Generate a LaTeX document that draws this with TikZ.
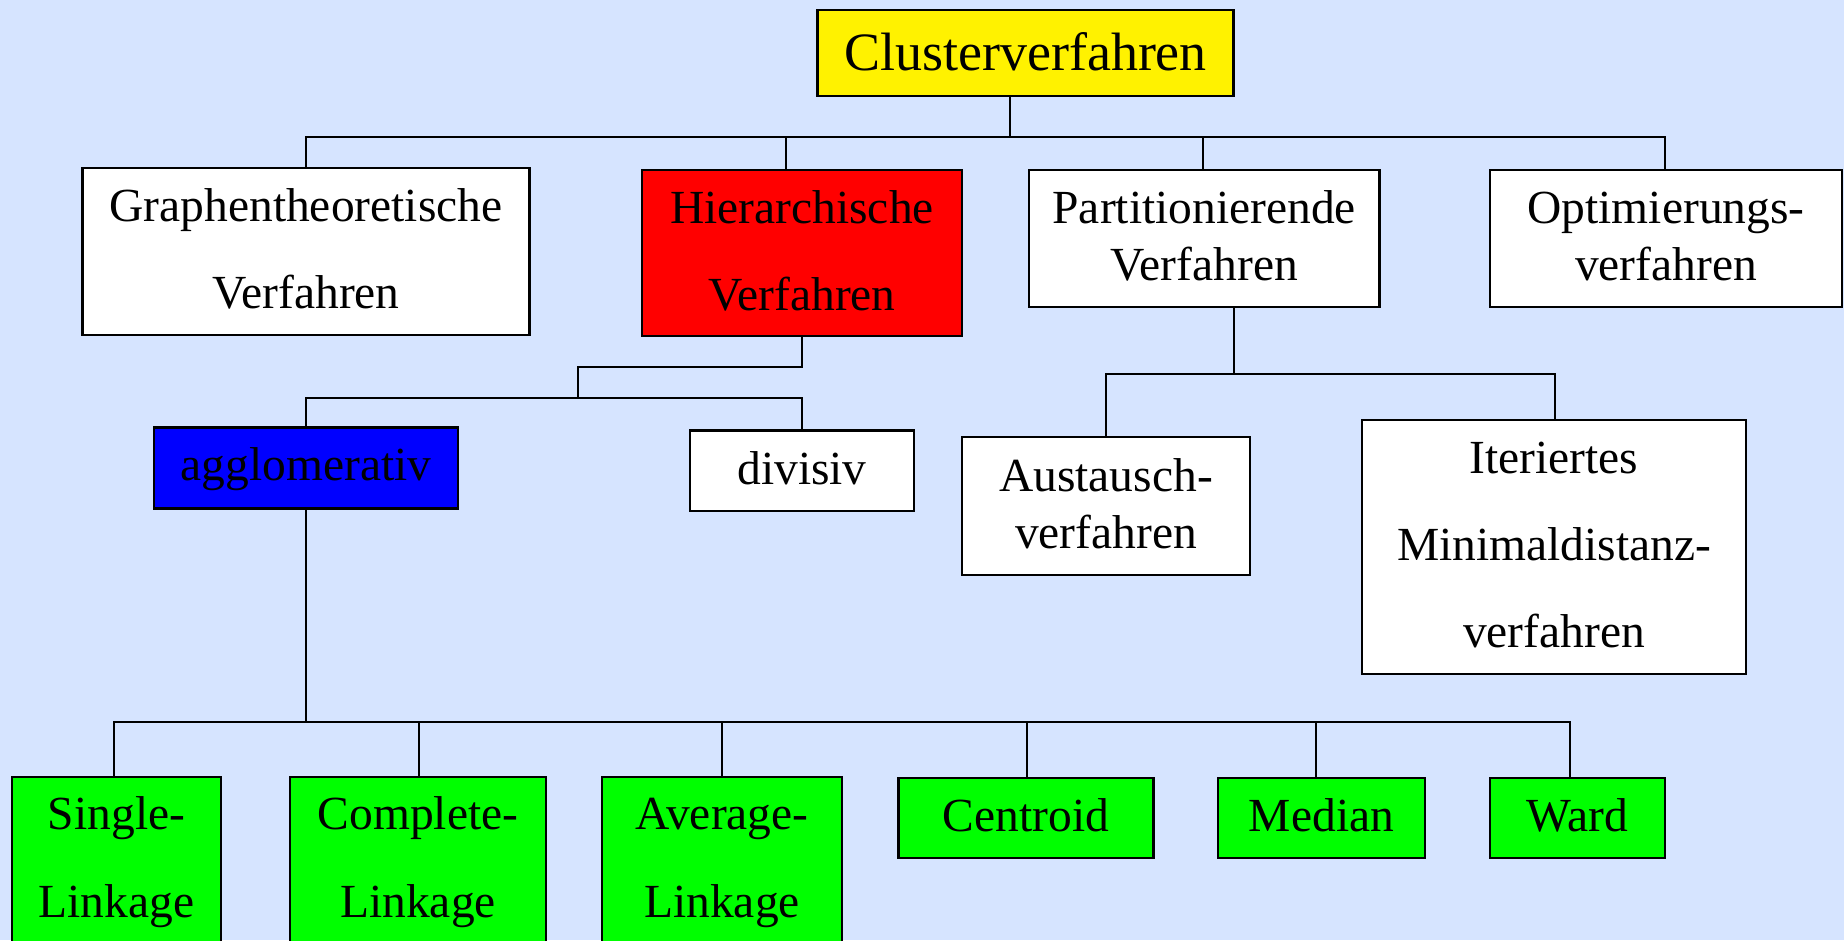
\documentclass[tikz,border=0pt]{standalone}
\usepackage{fontspec}
\setmainfont{Liberation Serif}
\definecolor{bgblue}{RGB}{214,228,255}
\newcommand{\lnstrut}{\rule[-9pt]{0pt}{45pt}}
\newcommand{\bigstrut}{\rule[-10pt]{0pt}{55pt}}
\tikzset{
  box/.style={draw=black, line width=2.2pt, inner sep=0pt, align=center,
              font=\fontsize{47.5}{57}\selectfont},
  conn/.style={draw=black, line width=2.2pt, line cap=rect}
}
\begin{document}
\begin{tikzpicture}[x=1pt,y=-1pt]
\useasboundingbox (0,0) rectangle (1844,940);
\fill[bgblue] (0,0) rectangle (1844,940);

% level 0
\node[box, fill=yellow, minimum width=416pt, minimum height=86pt,
      font=\fontsize{54}{64}\selectfont] (clu) at (1025.5,52.6) {\bigstrut Clusterverfahren};

% level 1
\node[box, fill=white, minimum width=447pt, minimum height=167pt] (gra) at (306,251.5)
  {\lnstrut Graphentheoretische\\[30pt]\lnstrut Verfahren};
\node[box, fill=red, minimum width=320pt, minimum height=166pt] (hie) at (802,253)
  {\lnstrut Hierarchische\\[30pt]\lnstrut Verfahren};
\node[box, fill=white, minimum width=350.5pt, minimum height=137pt] (par) at (1204.25,238.5)
  {\lnstrut Partitionierende\\\lnstrut Verfahren};
\node[box, fill=white, minimum width=352pt, minimum height=137pt] (opt) at (1666,238.5)
  {\lnstrut Optimierungs-\\\lnstrut verfahren};

% level 2
\node[box, fill=blue, minimum width=303.5pt, minimum height=81pt] (agg) at (306,468)
  {\lnstrut agglomerativ};
\node[box, fill=white, minimum width=224pt, minimum height=80.5pt] (div) at (802,470.75)
  {\lnstrut divisiv};
\node[box, fill=white, minimum width=288pt, minimum height=138pt] (aus) at (1106,506)
  {\lnstrut Austausch-\\\lnstrut verfahren};
\node[box, fill=white, minimum width=384pt, minimum height=254.2pt] (ite) at (1554,546.7)
  {\lnstrut Iteriertes\\[30pt]\lnstrut Minimaldistanz-\\[30pt]\lnstrut verfahren};

% level 3
\node[box, fill=green, minimum width=209pt, minimum height=167pt] (sin) at (116.5,860.5)
  {\lnstrut Single-\\[31pt]\lnstrut Linkage};
\node[box, fill=green, minimum width=256pt, minimum height=167pt] (com) at (418,860.5)
  {\lnstrut Complete-\\[31pt]\lnstrut Linkage};
\node[box, fill=green, minimum width=240pt, minimum height=167pt] (ave) at (722,860.5)
  {\lnstrut Average-\\[31pt]\lnstrut Linkage};
\node[box, fill=green, minimum width=255pt, minimum height=80pt] (cen) at (1026,818)
  {\lnstrut Centroid};
\node[box, fill=green, minimum width=207pt, minimum height=80pt] (med) at (1321.5,818)
  {\lnstrut Median};
\node[box, fill=green, minimum width=175pt, minimum height=80pt] (war) at (1577.5,818)
  {\lnstrut Ward};

% junction coordinates
\coordinate (t0) at (1010,137);
\coordinate (t1) at (306,137);
\coordinate (t2) at (786,137);
\coordinate (t3) at (1203,137);
\coordinate (t4) at (1665,137);

\coordinate (h1) at (802,366.7);
\coordinate (h2) at (578,398.3);

\coordinate (p1) at (1233.6,374.3);
\coordinate (p2) at (1106,374.3);
\coordinate (p3) at (1554.7,374.3);

\coordinate (a0) at (306,721.7);
\coordinate (a1) at (114,721.7);
\coordinate (a2) at (418.6,721.7);
\coordinate (a3) at (722,721.7);
\coordinate (a4) at (1026.7,721.7);
\coordinate (a5) at (1316,721.7);
\coordinate (a6) at (1570,721.7);

% top tree
\draw[conn] (clu.south -| t0) -- (t0);
\draw[conn] (t1) -- (t4);
\draw[conn] (t1) -- (gra.north -| t1);
\draw[conn] (t2) -- (hie.north -| t2);
\draw[conn] (t3) -- (par.north -| t3);
\draw[conn] (t4) -- (opt.north -| t4);

% hierarchische
\draw[conn] (hie.south) -- (h1) -| (h2);
\draw[conn] (agg.north) |- (div.north |- h2) -- (div.north);

% partitionierende
\draw[conn] (par.south -| p1) -- (p1);
\draw[conn] (p2) -- (p3);
\draw[conn] (p2) -- (aus.north -| p2);
\draw[conn] (p3) -- (ite.north -| p3);

% agglomerativ
\draw[conn] (agg.south) -- (a0);
\draw[conn] (a1) -- (a6);
\draw[conn] (a1) -- (sin.north -| a1);
\draw[conn] (a2) -- (com.north -| a2);
\draw[conn] (a3) -- (ave.north -| a3);
\draw[conn] (a4) -- (cen.north -| a4);
\draw[conn] (a5) -- (med.north -| a5);
\draw[conn] (a6) -- (war.north -| a6);
\end{tikzpicture}
\end{document}
